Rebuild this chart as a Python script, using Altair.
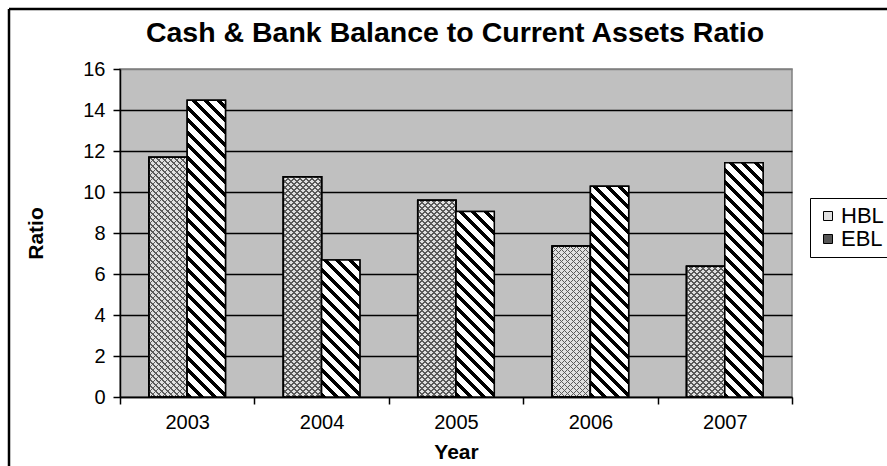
import altair as alt
import pandas as pd

# ---- data ----
years = ["2003", "2004", "2005", "2006", "2007"]
banks = ["HBL", "EBL"]
hbl = [11.7, 10.75, 9.6, 7.37, 6.38]
ebl = [14.47, 6.68, 9.05, 10.28, 11.43]
y_ticks = [0, 2, 4, 6, 8, 10, 12, 14, 16]
title_text = "Cash & Bank Balance to Current Assets Ratio"

rows = []
for i, yr in enumerate(years):
    rows.append({"Year": yr, "Bank": "HBL", "Ratio": hbl[i]})
    rows.append({"Year": yr, "Bank": "EBL", "Ratio": ebl[i]})
df = pd.DataFrame(rows)

# ---- layout / style ----
W, H = 672, 328
YMAX = 16
PAD_OUT = 0.755
FONT = "Liberation Sans"
bar_w = (W / len(years)) / (2 + 2 * PAD_OUT)


def stripes(w, h, period, frac, dark, light, back=True):
    """Linear gradient giving 45-degree stripes on a w x h pixel bar."""
    L = w + h
    k = L / (w * w + h * h)
    if back:
        x1, y1, x2, y2 = 0, 1, k * w, 1 - k * h
    else:
        x1, y1, x2, y2 = 0, 0, k * w, k * h
    stops = []
    n = 0
    while n * period < L:
        a = n * period
        b = a + frac * period
        c = (n + 1) * period
        for off, col in ((a, dark), (b, dark), (b, light), (c, light)):
            stops.append(alt.GradientStop(offset=round(min(off / L, 1.0), 5), color=col))
        n += 1
    return alt.LinearGradient(gradient="linear", x1=x1, y1=y1, x2=x2, y2=y2, stops=stops)


X = alt.X("Year:N", scale=alt.Scale(domain=years, paddingInner=0, paddingOuter=0),
          title="Year",
          axis=alt.Axis(grid=False, tickBand="extent", labelAngle=0, tickSize=7,
                        labelPadding=8, titlePadding=9))
XO = alt.XOffset("Bank:N", scale=alt.Scale(domain=banks, paddingInner=0, paddingOuter=PAD_OUT))
Y = alt.Y("Ratio:Q", scale=alt.Scale(domain=[0, YMAX], nice=False, zero=True),
          title="Ratio",
          axis=alt.Axis(values=y_ticks, tickSize=7, labelPadding=8, titlePadding=36,
                        grid=True, gridWidth=1.5,
                        gridColor={"condition": {"test": "datum.value === 16", "value": "#808080"},
                                   "value": "black"}))

base = alt.Chart(df).mark_bar(stroke="black", strokeWidth=1.5).encode(
    x=X, xOffset=XO, y=Y,
    color=alt.Color("Bank:N", scale=alt.Scale(domain=banks, range=["#e0e0e0", "#555555"]),
                    legend=alt.Legend(title=None, orient="none", legendX=690, legendY=129,
                                      direction="vertical"))
)

layers = [base]
for i, yr in enumerate(years):
    for bank, vals in (("HBL", hbl), ("EBL", ebl)):
        h = vals[i] / YMAX * H
        sel = alt.Chart(df).transform_filter(
            f"datum.Year === '{yr}' && datum.Bank === '{bank}'")
        if bank == "HBL":
            for back in (True, False):
                g = stripes(bar_w, h, 6, 0.3, "#5a5a5a", "rgba(255,255,255,0)", back=back)
                layers.append(sel.mark_bar(fill=g, stroke="black", strokeWidth=1.5)
                              .encode(x=X, xOffset=XO, y=Y))
        else:
            g = stripes(bar_w, h, 12.5, 0.4, "#000000", "#ffffff", back=True)
            layers.append(sel.mark_bar(fill=g, stroke="black", strokeWidth=1.5)
                          .encode(x=X, xOffset=XO, y=Y))

one = pd.DataFrame({"k": [0]})
frame_v = alt.Chart(one).mark_rule(color="black", strokeWidth=2.5).encode(
    x=alt.value(-111), y=alt.value(-60), y2=alt.value(410))
frame_h = alt.Chart(one).mark_rule(color="black", strokeWidth=2.5).encode(
    x=alt.value(-111), x2=alt.value(780), y=alt.value(-60))
title = alt.Chart(one).mark_text(text=title_text, font=FONT, fontSize=28.5, fontWeight="bold",
                                 color="black", align="center", baseline="alphabetic").encode(
    x=alt.value(335), y=alt.value(-27))

layers += [frame_v, frame_h, title]

chart = alt.layer(*layers).properties(
    width=W, height=H,
    padding={"left": 120, "top": 69, "right": 95, "bottom": 69},
    autosize=alt.AutoSizeParams(type="none"),
    background="white",
).configure_view(
    fill="#c0c0c0", stroke="#808080", strokeWidth=1.5
).configure_axis(
    domainColor="black", domainWidth=1.5, tickColor="black", tickWidth=1.5,
    labelColor="black", labelFont=FONT, labelFontSize=20,
    titleColor="black", titleFont=FONT, titleFontSize=21, titleFontWeight="bold",
).configure_legend(
    strokeColor="black", fillColor="white", padding=7, rowPadding=1,
    symbolType="square", symbolSize=81, symbolStrokeColor="black", symbolStrokeWidth=1,
    labelFont=FONT, labelFontSize=22, labelColor="black", labelOffset=2,
)

chart.save("out.html", embed_options={"renderer": "svg", "actions": False})
